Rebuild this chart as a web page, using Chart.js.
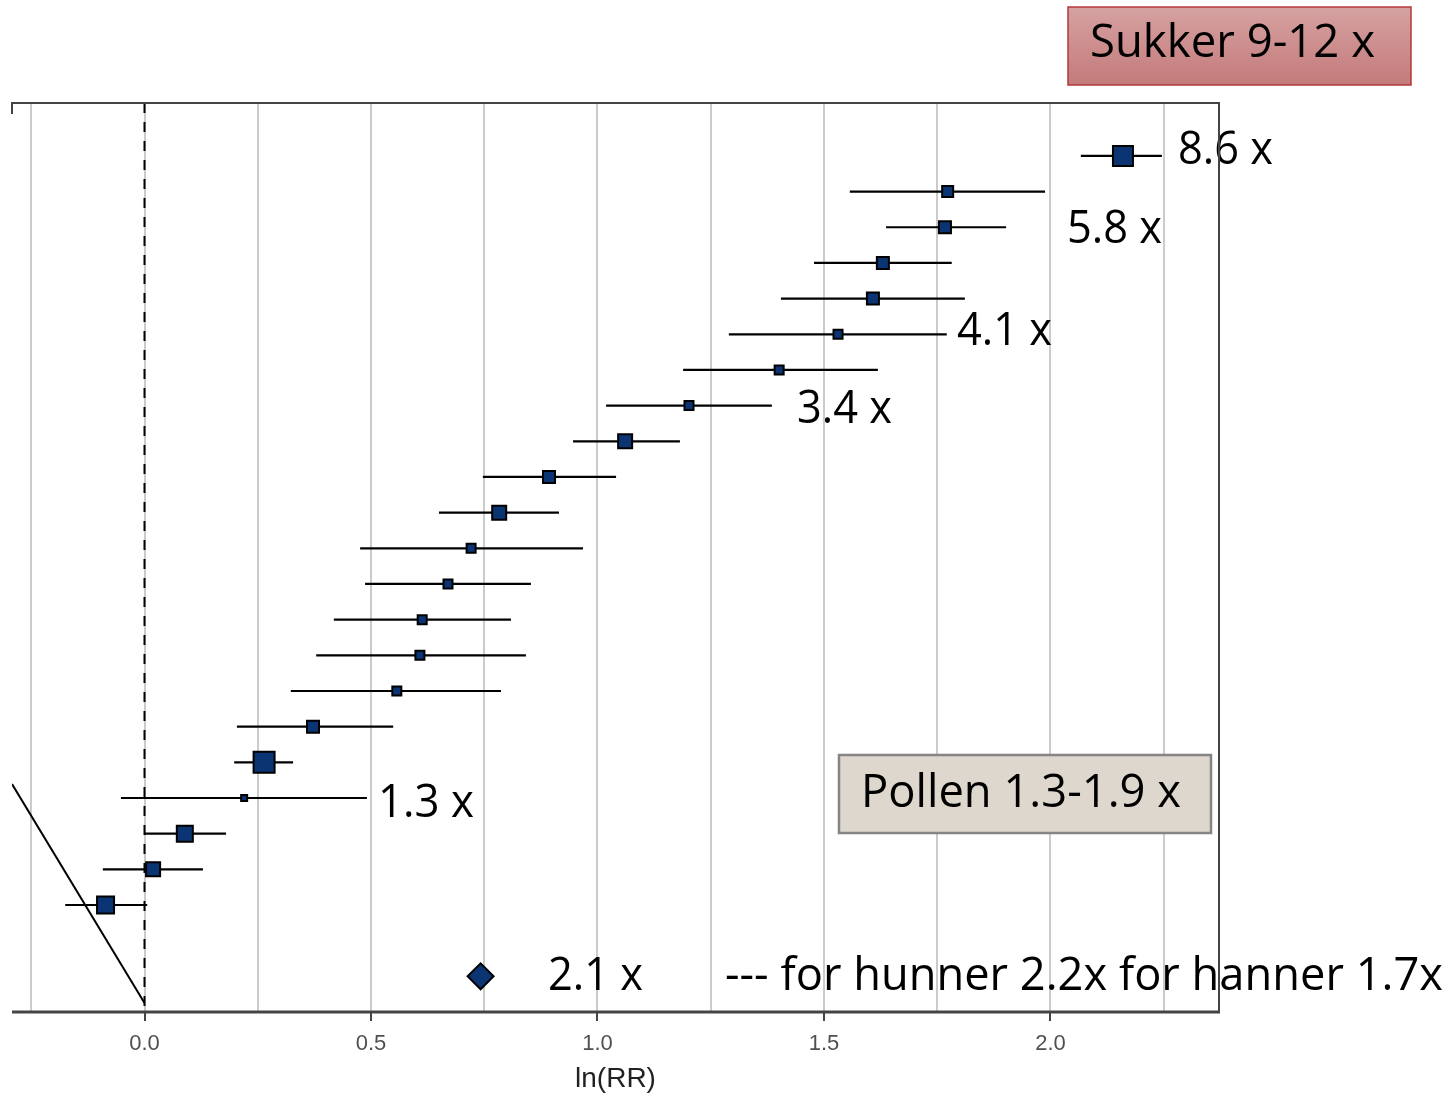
<!DOCTYPE html>
<html>
<head>
<meta charset="utf-8">
<script src="https://cdn.jsdelivr.net/npm/chart.js@4"></script>
<style>
  html, body { margin: 0; padding: 0; background: #ffffff; }
  #wrap { width: 1449px; height: 1096px; }
</style>
</head>
<body>
<div id="wrap"><canvas id="forest" width="1449" height="1096"></canvas></div>
<script>
// study rows, top to bottom
const studies = [1, 2, 3, 4, 5, 6, 7, 8, 9, 10, 11, 12, 13, 14, 15, 16, 17, 18, 19, 20, 21, 22];
// ln(RR) estimates and 95% CI
const lnRR = [2.160, 1.773, 1.767, 1.630, 1.608, 1.531, 1.401, 1.202, 1.061, 0.893, 0.783,
  0.721, 0.670, 0.613, 0.608, 0.557, 0.372, 0.264, 0.220, 0.089, 0.019, -0.086];
const lower = [2.067, 1.557, 1.637, 1.478, 1.405, 1.290, 1.189, 1.019, 0.946, 0.747, 0.650,
  0.476, 0.487, 0.418, 0.379, 0.323, 0.204, 0.198, -0.052, 0.000, -0.092, -0.175];
const upper = [2.246, 1.988, 1.902, 1.782, 1.811, 1.771, 1.619, 1.385, 1.182, 1.041, 0.915,
  0.968, 0.853, 0.809, 0.842, 0.787, 0.549, 0.328, 0.491, 0.180, 0.129, 0.006];
// relative study weight (marker size)
const weights = [20, 11, 12, 12, 12, 9, 9, 9, 14, 12, 14, 9, 9, 9, 9, 9, 12, 21, 6, 16, 14, 17];
// pooled estimate
const pooledRow = 24;
const pooled = 0.742;
// sloping reference line
const slopeLine = [{ x: -0.2925, y: 18.61 }, { x: 0, y: 24.75 }];
const xTicks = [-0.25, 0, 0.25, 0.5, 0.75, 1.0, 1.25, 1.5, 1.75, 2.0, 2.25];

const navy = '#0b3572';
const isMajor = v => Math.abs(v * 2 - Math.round(v * 2)) < 1e-9;

const ciSets = studies.map((row, i) => ({
  data: [{ x: lower[i], y: row }, { x: upper[i], y: row }],
  showLine: true,
  borderColor: '#000000',
  borderWidth: 2.2,
  pointRadius: 0,
  order: 3
}));

const notes = [
  { text: '8.6 x', x: 1178, y: 164, w: 95 },
  { text: '5.8 x', x: 1067, y: 243, w: 95 },
  { text: '4.1 x', x: 957, y: 345, w: 95 },
  { text: '3.4 x', x: 797, y: 423, w: 95 },
  { text: '1.3 x', x: 378, y: 817, w: 96 },
  { text: '2.1 x', x: 548, y: 990, w: 95 },
  { text: '--- for hunner 2.2x for hanner 1.7x', x: 725, y: 990, w: 718 }
];

function fitText(ctx, text, x, y, w) {
  ctx.save();
  ctx.font = '46px "Open Sans"';
  ctx.fillStyle = '#000000';
  ctx.textBaseline = 'alphabetic';
  ctx.textAlign = 'left';
  const m = ctx.measureText(text).width;
  ctx.translate(x, y);
  ctx.scale(w / m, 1);
  ctx.fillText(text, 0, 0);
  ctx.restore();
}

const annotations = {
  id: 'annotations',
  afterDatasetsDraw(chart) {
    const ctx = chart.ctx;
    // Sukker box
    ctx.save();
    const g = ctx.createLinearGradient(0, 7, 0, 85);
    g.addColorStop(0, '#d6a1a1');
    g.addColorStop(1, '#c47a7a');
    ctx.fillStyle = g;
    ctx.fillRect(1068, 7, 343, 78);
    ctx.strokeStyle = '#b2383a';
    ctx.lineWidth = 1.5;
    ctx.strokeRect(1068, 7, 343, 78);
    // Pollen box
    ctx.fillStyle = '#ded7cd';
    ctx.fillRect(839, 755, 372, 78);
    ctx.strokeStyle = '#858585';
    ctx.lineWidth = 2.5;
    ctx.strokeRect(839, 755, 372, 78);
    ctx.restore();
    fitText(ctx, 'Sukker 9-12 x', 1090, 57, 285);
    fitText(ctx, 'Pollen 1.3-1.9 x', 861, 807, 320);
    notes.forEach(n => fitText(ctx, n.text, n.x, n.y, n.w));
  },
  afterDraw(chart) {
    const { ctx, chartArea: a } = chart;
    ctx.save();
    ctx.strokeStyle = '#444444';
    ctx.lineWidth = 2;
    ctx.beginPath();
    ctx.moveTo(a.left, a.top + 11);
    ctx.lineTo(a.left, a.top);
    ctx.lineTo(a.right, a.top);
    ctx.lineTo(a.right, a.bottom);
    ctx.stroke();
    ctx.lineWidth = 3;
    ctx.beginPath();
    ctx.moveTo(a.left, a.bottom);
    ctx.lineTo(a.right + 1, a.bottom);
    ctx.stroke();
    ctx.restore();
  }
};

new Chart(document.getElementById('forest'), {
  type: 'scatter',
  data: {
    datasets: [
      {
        data: studies.map((row, i) => ({ x: lnRR[i], y: row })),
        pointStyle: 'rect',
        pointRadius: weights.map(w => w / 1.414),
        backgroundColor: navy,
        borderColor: '#000000',
        borderWidth: 2,
        order: 1
      },
      {
        data: [{ x: pooled, y: pooledRow }],
        pointStyle: 'rectRot',
        pointRadius: 13,
        backgroundColor: navy,
        borderColor: '#000000',
        borderWidth: 2,
        order: 1
      },
      ...ciSets,
      {
        data: [{ x: 0, y: -0.484 }, { x: 0, y: 25 }],
        showLine: true,
        borderColor: '#000000',
        borderWidth: 2,
        borderDash: [10, 9],
        pointRadius: 0,
        order: 4
      },
      {
        data: slopeLine,
        showLine: true,
        borderColor: '#000000',
        borderWidth: 2,
        pointRadius: 0,
        order: 4
      }
    ]
  },
  options: {
    responsive: false,
    animation: false,
    layout: { autoPadding: false, padding: { left: 12, right: 230, top: 103, bottom: 0 } },
    plugins: {
      legend: { display: false },
      tooltip: { enabled: false }
    },
    scales: {
      x: {
        type: 'linear',
        min: -0.2925,
        max: 2.372,
        afterBuildTicks: s => { s.ticks = xTicks.map(v => ({ value: v })); },
        afterFit: s => { s.height = 84; s.paddingLeft = 0; s.paddingRight = 0; },
        border: { display: false },
        grid: {
          color: '#cbcbcb',
          lineWidth: 2,
          tickLength: 9,
          tickWidth: 2,
          tickColor: c => (c.tick && isMajor(c.tick.value)) ? '#444444' : 'rgba(0,0,0,0)'
        },
        ticks: {
          padding: 10,
          color: '#505050',
          font: { family: '"Liberation Sans", Arial', size: 22 },
          callback: v => isMajor(v) ? v.toFixed(1) : ''
        },
        title: {
          display: true,
          text: 'ln(RR)',
          color: '#222222',
          padding: { top: 0, bottom: 0 },
          font: { family: '"Liberation Sans", Arial', size: 28 }
        }
      },
      y: {
        type: 'linear',
        display: false,
        reverse: true,
        min: -0.484,
        max: 25
      }
    }
  },
  plugins: [annotations]
});
</script>
</body>
</html>
